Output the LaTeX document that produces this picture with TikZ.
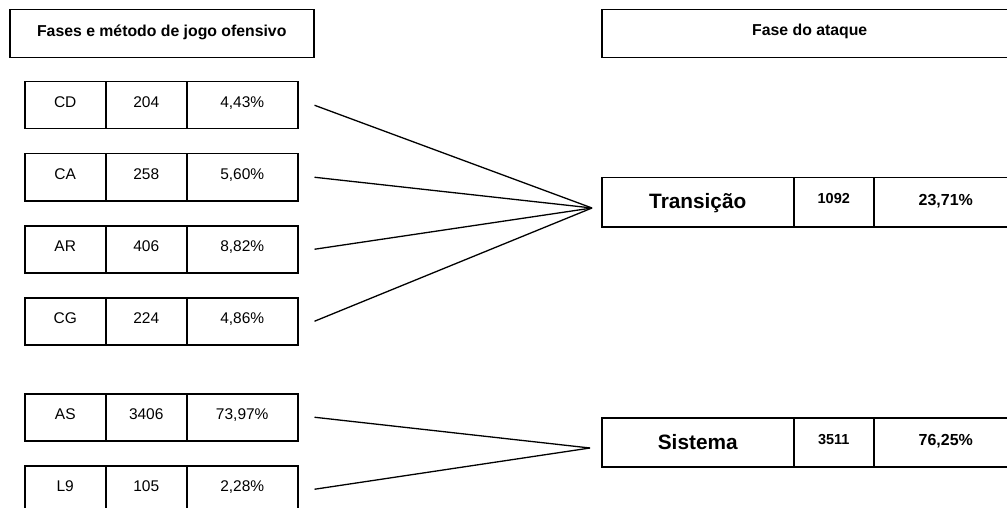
\documentclass[tikz,border=0pt]{standalone}
\usepackage{fontspec}
\setmainfont{Liberation Sans}
\begin{document}
\begin{tikzpicture}[x=1pt,y=-1pt,
  box/.style={draw, line width=1.5pt, inner sep=0pt, anchor=north west, align=center},
  head/.style={box, minimum height=48pt, text height=10pt, text depth=4pt,
    font=\fontsize{15.8}{18}\selectfont\bfseries},
  cell/.style={box, minimum height=47pt, text height=9pt, text depth=5pt,
    font=\fontsize{15.5}{18}\selectfont},
  phase/.style={box, minimum height=49pt, text height=16pt, text depth=3pt,
    font=\fontsize{20.8}{24}\selectfont\bfseries},
  count/.style={box, minimum height=49pt, text height=8pt, text depth=5pt,
    font=\fontsize{14.5}{17}\selectfont\bfseries},
  share/.style={box, minimum height=49pt, text height=10pt, text depth=3pt,
    font=\fontsize{16}{18}\selectfont\bfseries},
  link/.style={line width=1.3pt}
]
\useasboundingbox (0,0) rectangle (1007,508);

% column headers
\node[head, minimum width=304pt] (hl) at (9,9) {Fases e método de jogo ofensivo};
\node[head, minimum width=416pt, text height=9pt, text depth=5pt] (hr) at (601,9) {Fase do ataque};

% offensive methods: name, count, share
\node[cell, minimum width=81pt]  (cd1) at (24,81)  {CD};
\node[cell, minimum width=81pt]  (cd2) at (105,81) {204};
\node[cell, minimum width=111pt] (cd3) at (186,81) {4,43\%};

\node[cell, minimum width=81pt]  (ca1) at (24,153)  {CA};
\node[cell, minimum width=81pt]  (ca2) at (105,153) {258};
\node[cell, minimum width=111pt] (ca3) at (186,153) {5,60\%};

\node[cell, minimum width=81pt]  (ar1) at (24,225)  {AR};
\node[cell, minimum width=81pt]  (ar2) at (105,225) {406};
\node[cell, minimum width=111pt] (ar3) at (186,225) {8,82\%};

\node[cell, minimum width=81pt]  (cg1) at (24,297)  {CG};
\node[cell, minimum width=81pt]  (cg2) at (105,297) {224};
\node[cell, minimum width=111pt] (cg3) at (186,297) {4,86\%};

\node[cell, minimum width=81pt]  (as1) at (24,393)  {AS};
\node[cell, minimum width=81pt]  (as2) at (105,393) {3406};
\node[cell, minimum width=111pt] (as3) at (186,393) {73,97\%};

\node[cell, minimum width=81pt]  (l91) at (24,465)  {L9};
\node[cell, minimum width=81pt]  (l92) at (105,465) {105};
\node[cell, minimum width=111pt] (l93) at (186,465) {2,28\%};

% attack phases
\node[phase, minimum width=192pt] (tr1) at (601,177) {Transição};
\node[count, minimum width=80pt]  (tr2) at (793,177) {1092};
\node[share, minimum width=144pt] (tr3) at (873,177) {23,71\%};

\node[phase, minimum width=192pt, text height=17pt, text depth=3pt] (si1) at (601,417) {Sistema};
\node[count, minimum width=80pt, text height=9pt, text depth=5pt]  (si2) at (793,417) {3511};
\node[share, minimum width=144pt, text height=9pt, text depth=3pt] (si3) at (873,417) {76,25\%};

% meeting points of the connectors
\coordinate (tj) at (592,208);
\coordinate (sj) at (590,448);

\foreach \r in {cd3,ca3,ar3,cg3}
  \draw[link] ([xshift=16pt]\r.east) -- (tj);
\foreach \r in {as3,l93}
  \draw[link] ([xshift=16pt]\r.east) -- (sj);
\end{tikzpicture}
\end{document}
